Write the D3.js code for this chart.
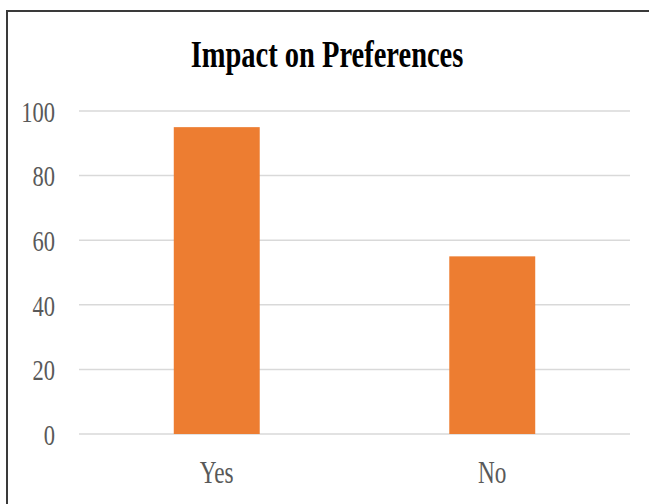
<!DOCTYPE html>
<html>
<head>
<meta charset="utf-8">
<script src="https://cdn.jsdelivr.net/npm/d3@7"></script>
<style>
  html, body { margin: 0; padding: 0; background: #fff; }
  svg { display: block; }
  .serif { font-family: "Liberation Serif", Tinos, "Times New Roman", "DejaVu Serif", serif; }
</style>
</head>
<body>
<script>
// Chart data
const categories = ["Yes", "No"];
const values = [95, 55];
const yTicks = [0, 20, 40, 60, 80, 100];
const titleText = "Impact on Preferences";

const W = 649, H = 504;
const margin = { left: 79, right: 19, top: 111, bottom: 70 };
const sx = 0.75; // horizontal condensing of the serif lettering

const svg = d3.select("body").append("svg")
  .attr("width", W).attr("height", H);

// Frame around the chart area
svg.append("path")
  .attr("d", `M7,${H + 2} L7,11 L${W + 2},11`)
  .attr("fill", "none")
  .attr("stroke", "#3a3a3a")
  .attr("stroke-width", 2);

const x = d3.scaleBand()
  .domain(categories)
  .range([margin.left, W - margin.right])
  .padding(0);

const y = d3.scaleLinear()
  .domain([0, 100])
  .range([H - margin.bottom, margin.top]);

// Gridlines
svg.append("g")
  .selectAll("line")
  .data(yTicks)
  .join("line")
  .attr("x1", margin.left)
  .attr("x2", W - margin.right)
  .attr("y1", d => y(d))
  .attr("y2", d => y(d))
  .attr("stroke", "#d9d9d9")
  .attr("stroke-width", 1.5);

// Bars
const barW = x.bandwidth() * 0.312;
svg.append("g")
  .selectAll("rect")
  .data(values)
  .join("rect")
  .attr("x", (d, i) => x(categories[i]) + x.bandwidth() / 2 - barW / 2)
  .attr("y", d => y(d))
  .attr("width", barW)
  .attr("height", d => y(0) - y(d))
  .attr("fill", "#ED7D31");

// Y axis labels
const yAxis = svg.append("g")
  .attr("transform", `translate(${margin.left},0)`)
  .call(d3.axisLeft(y).tickValues(yTicks).tickSize(0).tickFormat(d3.format("d")))
  .attr("font-family", null);
yAxis.select(".domain").remove();
yAxis.selectAll("text")
  .attr("class", "serif")
  .style("font-size", "30px")
  .attr("fill", "#595959")
  .attr("x", -24 / sx)
  .attr("dy", "0.34em")
  .attr("transform", `scale(${sx},1)`);

// X axis labels
const xAxis = svg.append("g")
  .attr("transform", `translate(0,${y(0)})`)
  .call(d3.axisBottom(x).tickSize(0))
  .attr("font-family", null);
xAxis.select(".domain").remove();
xAxis.selectAll(".tick text")
  .attr("class", "serif")
  .style("font-size", "31px")
  .attr("fill", "#595959")
  .attr("y", 49.5)
  .attr("dy", 0)
  .attr("transform", `scale(${sx},1)`);
// keep each label centred on its band after condensing
xAxis.selectAll(".tick")
  .attr("transform", d => `translate(${(x(d) + x.bandwidth() / 2)},0)`);

// Title
svg.append("text")
  .attr("class", "serif")
  .attr("transform", `translate(327,67) scale(${sx},1)`)
  .attr("text-anchor", "middle")
  .style("font-weight", "bold")
  .style("font-size", "38px")
  .attr("fill", "#000")
  .text(titleText);
</script>
</body>
</html>
